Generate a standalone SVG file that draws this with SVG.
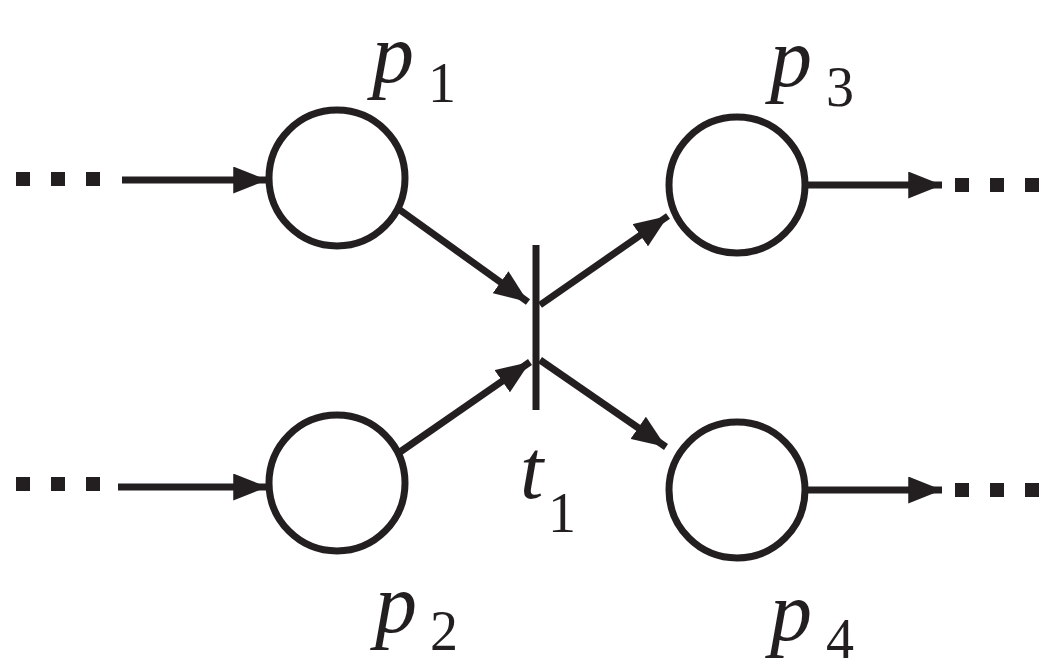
<svg xmlns="http://www.w3.org/2000/svg" width="1061" height="670" viewBox="0 0 1061 670">
<style>
.n{fill:none;stroke:#231f20;stroke-width:7}
.c{stroke:#231f20;stroke-width:7;fill:none}
.l{font-family:'Liberation Serif','DejaVu Serif',serif;font-style:italic;font-size:84px;fill:#231f20}
.s{font-family:'Liberation Serif','DejaVu Serif',serif;font-size:56px;fill:#231f20}
.d{fill:#231f20}
</style>
<defs>
<marker id="b" viewBox="0 0 10 8" refX="10" refY="4" markerWidth="34" markerHeight="27" orient="auto" markerUnits="userSpaceOnUse"><path d="M0,0L10,4L0,8z" fill="#231f20"/></marker></defs>
<g id="p1"><circle class="n" cx="337" cy="178" r="68"/><text class="l" x="372" y="82">p</text><text class="s" x="428" y="102">1</text></g>
<g id="p2"><circle class="n" cx="337" cy="483" r="68"/><text class="l" x="375" y="632">p</text><text class="s" x="430" y="650">2</text></g>
<g id="p3"><circle class="n" cx="737" cy="185" r="68"/><text class="l" x="770" y="86">p</text><text class="s" x="826" y="106">3</text></g>
<g id="p4"><circle class="n" cx="737" cy="490" r="68"/><text class="l" x="770" y="640">p</text><text class="s" x="826" y="658">4</text></g>
<g id="t1"><line class="c" x1="536" y1="245" x2="536" y2="410"/><text class="l" x="520" y="498">t</text><text class="s" x="548" y="532">1</text></g>
<g id="dots">
<rect class="d" x="16" y="172" width="14" height="14"/><rect class="d" x="51" y="172" width="14" height="14"/><rect class="d" x="86" y="172" width="14" height="14"/>
<rect class="d" x="16" y="477" width="14" height="14"/><rect class="d" x="51" y="477" width="14" height="14"/><rect class="d" x="86" y="477" width="14" height="14"/>
<rect class="d" x="955" y="178" width="14" height="14"/><rect class="d" x="990" y="178" width="14" height="14"/><rect class="d" x="1025" y="178" width="14" height="14"/>
<rect class="d" x="955" y="483" width="14" height="14"/><rect class="d" x="990" y="483" width="14" height="14"/><rect class="d" x="1025" y="483" width="14" height="14"/>
</g>
<g id="connectors">
<line class="c" x1="122" y1="180" x2="267" y2="180" marker-end="url(#b)"/>
<line class="c" x1="118" y1="487" x2="267" y2="487" marker-end="url(#b)"/>
<line class="c" x1="400" y1="210" x2="528" y2="302" marker-end="url(#b)"/>
<line class="c" x1="400" y1="452" x2="530" y2="362" marker-end="url(#b)"/>
<line class="c" x1="540" y1="305" x2="668" y2="216" marker-end="url(#b)"/>
<line class="c" x1="540" y1="360" x2="666" y2="447" marker-end="url(#b)"/>
<line class="c" x1="806" y1="185" x2="942" y2="185" marker-end="url(#b)"/>
<line class="c" x1="806" y1="490" x2="942" y2="490" marker-end="url(#b)"/>
</g>
</svg>
